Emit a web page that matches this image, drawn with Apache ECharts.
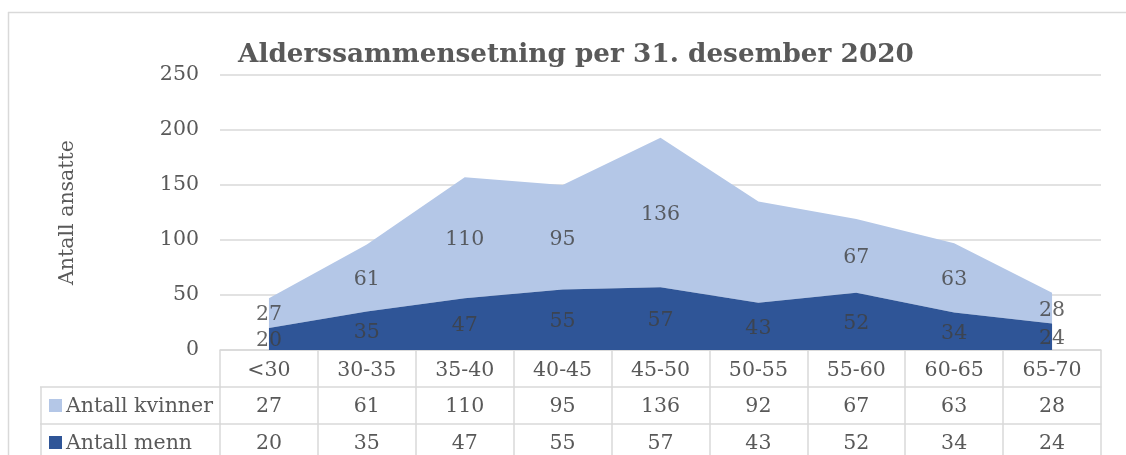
<!DOCTYPE html>
<html>
<head>
<meta charset="utf-8">
<script src="https://cdn.jsdelivr.net/npm/echarts@6/dist/echarts.min.js"></script>
<style>
html,body{margin:0;padding:0;background:#fff;}
#c{width:1126px;height:455px;}
</style>
</head>
<body>
<div id="c"></div>
<script>
var categories = ['<30','30-35','35-40','40-45','45-50','50-55','55-60','60-65','65-70'];
var women = [27, 61, 110, 95, 136, 92, 67, 63, 28];
var men = [20, 35, 47, 55, 57, 43, 52, 34, 24];
var yTicks = [0, 50, 100, 150, 200, 250];
var hiddenWomenLabels = ['50-55'];
var titleText = 'Alderssammensetning per 31. desember 2020';
var womenName = 'Antall kvinner';
var menName = 'Antall menn';
var yName = 'Antall ansatte';

var FONT = '"DejaVu Serif", serif';
var FS = 20.5;
var GRID = '#d9d9d9';
var TXT = '#595959';
var LBL = '#404040';
var C_W = '#B4C7E7';
var C_M = '#2F5597';

var chart = echarts.init(document.getElementById('c'), null, {renderer: 'canvas'});

var womenMid = women.map(function (v, i) {
  var item = {value: [i, men[i] + v / 2, v]};
  if (hiddenWomenLabels.indexOf(categories[i]) >= 0) item.label = {show: false};
  return item;
});
var menMid = men.map(function (v, i) { return {value: [i, v / 2, v]}; });

var option = {
  backgroundColor: '#fff',
  animation: false,
  title: {
    text: titleText,
    left: 233, top: 37,
    textStyle: {fontFamily: FONT, fontSize: 26.3, fontWeight: 'bold', color: TXT}
  },
  grid: {left: 220, right: 25, top: 75, height: 275},
  xAxis: [
    {
      type: 'category', data: categories, position: 'bottom',
      axisLine: {show: true, lineStyle: {color: GRID, width: 1.5}},
      axisTick: {show: true, interval: 0, length: 105, lineStyle: {color: GRID, width: 1.5}},
      axisLabel: {fontFamily: FONT, fontSize: FS, color: TXT, margin: 10, interval: 0}
    },
    {
      type: 'category', data: women.map(String), position: 'bottom', offset: 37,
      axisLine: {show: true, lineStyle: {color: GRID, width: 1.5}},
      axisTick: {show: false},
      axisLabel: {fontFamily: FONT, fontSize: FS, color: TXT, margin: 9, interval: 0}
    },
    {
      type: 'category', data: men.map(String), position: 'bottom', offset: 74,
      axisLine: {show: true, lineStyle: {color: GRID, width: 1.5}},
      axisTick: {show: false},
      axisLabel: {fontFamily: FONT, fontSize: FS, color: TXT, margin: 9, interval: 0}
    }
  ],
  yAxis: {
    type: 'value', min: yTicks[0], max: yTicks[yTicks.length - 1], interval: yTicks[1] - yTicks[0],
    name: yName, nameLocation: 'middle', nameGap: 142, nameRotate: 90,
    nameTextStyle: {fontFamily: FONT, fontSize: FS, color: TXT},
    axisLine: {show: false}, axisTick: {show: false},
    axisLabel: {fontFamily: FONT, fontSize: FS, color: TXT, margin: 21},
    splitLine: {lineStyle: {color: GRID, width: 1.5}}
  },
  series: [
    {
      name: menName, type: 'line', stack: 'total', data: men, xAxisIndex: 0,
      symbol: 'none', lineStyle: {width: 0}, areaStyle: {color: C_M, opacity: 1},
      itemStyle: {color: C_M}, z: 2
    },
    {
      name: womenName, type: 'line', stack: 'total', data: women, xAxisIndex: 0,
      symbol: 'none', lineStyle: {width: 0}, areaStyle: {color: C_W, opacity: 1},
      itemStyle: {color: C_W}, z: 1
    },
    {
      type: 'scatter', data: menMid, xAxisIndex: 0, symbolSize: 1,
      itemStyle: {color: 'rgba(0,0,0,0)'}, z: 5,
      label: {show: true, position: 'inside', offset: [0, 2], fontFamily: FONT, fontSize: FS, color: LBL,
        formatter: function (p) { return p.value[2]; }}
    },
    {
      type: 'scatter', data: womenMid, xAxisIndex: 0, symbolSize: 1,
      itemStyle: {color: 'rgba(0,0,0,0)'}, z: 5,
      label: {show: true, position: 'inside', offset: [0, 2], fontFamily: FONT, fontSize: FS, color: LBL,
        formatter: function (p) { return p.value[2]; }}
    }
  ],
  graphic: [
    {type: 'line', shape: {x1: 8, y1: 12.5, x2: 1126, y2: 12.5}, style: {stroke: GRID, lineWidth: 1.5}},
    {type: 'line', shape: {x1: 8.5, y1: 12, x2: 8.5, y2: 455}, style: {stroke: GRID, lineWidth: 1.5}},
    {type: 'line', shape: {x1: 40, y1: 387, x2: 221, y2: 387}, style: {stroke: GRID, lineWidth: 1.5}},
    {type: 'line', shape: {x1: 40, y1: 424, x2: 221, y2: 424}, style: {stroke: GRID, lineWidth: 1.5}},
    {type: 'line', shape: {x1: 41, y1: 387, x2: 41, y2: 455}, style: {stroke: GRID, lineWidth: 1.5}},
    {type: 'rect', shape: {x: 49, y: 399, width: 13, height: 13}, style: {fill: C_W}},
    {type: 'rect', shape: {x: 49, y: 436, width: 13, height: 13}, style: {fill: C_M}},
    {type: 'text', x: 66, y: 407, style: {text: womenName, fontFamily: FONT, fontSize: FS, fill: TXT, verticalAlign: 'middle'}},
    {type: 'text', x: 66, y: 444, style: {text: menName, fontFamily: FONT, fontSize: FS, fill: TXT, verticalAlign: 'middle'}}
  ]
};
chart.setOption(option);
</script>
</body>
</html>
